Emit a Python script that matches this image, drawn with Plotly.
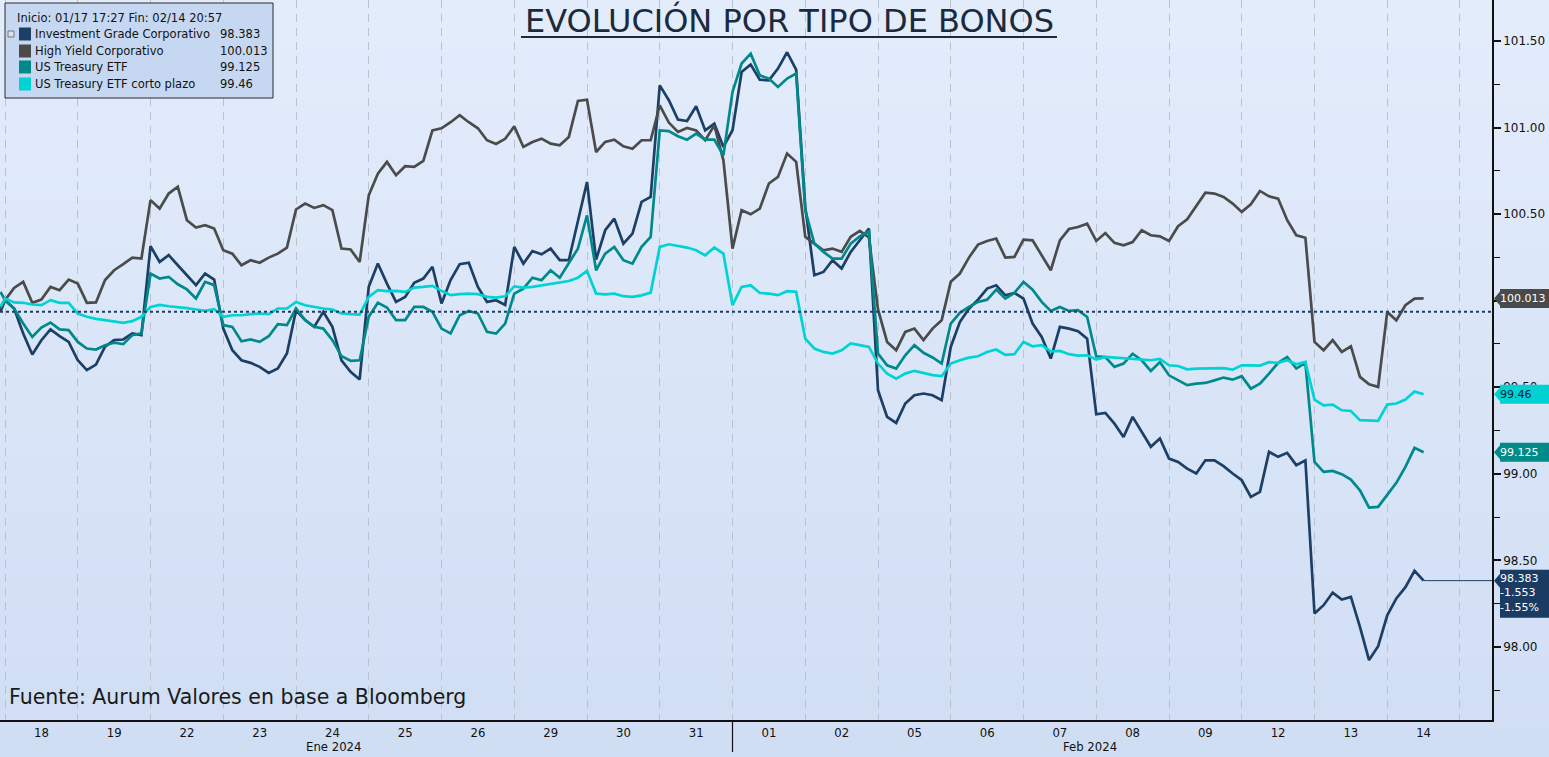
import plotly.graph_objects as go

# ---------------- DATA ----------------
day_labels = ["18", "19", "22", "23", "24", "25", "26", "29", "30", "31",
              "01", "02", "05", "06", "07", "08", "09", "12", "13", "14"]
month_labels = ["Ene 2024", "Feb 2024"]
y_tickvals = [98.0, 98.5, 99.0, 99.5, 100.0, 100.5, 101.0, 101.5]
y_ticktext = ["98.00", "98.50", "99.00", "99.50", "", "100.50", "101.00", "101.50"]
samples_per_day = 8
last_day_samples = 5

ig = [99.936,
      100.003, 99.955, 99.811, 99.689, 99.772, 99.834, 99.795, 99.762,
      99.656, 99.599, 99.631, 99.734, 99.772, 99.776, 99.811, 99.801,
      100.315, 100.224, 100.263, 100.205, 100.147, 100.090, 100.157, 100.122,
      99.839, 99.714, 99.656, 99.641, 99.618, 99.583, 99.608, 99.695,
      99.945, 99.888, 99.849, 99.936, 99.849, 99.656, 99.589, 99.545,
      100.080, 100.215, 100.099, 99.993, 100.022, 100.103, 100.128, 100.196,
      99.984, 100.119, 100.211, 100.219, 100.080, 99.993, 100.003, 99.975,
      100.311, 100.214, 100.287, 100.268, 100.301, 100.234, 100.234, 100.465,
      100.686, 100.237, 100.407, 100.474, 100.330, 100.388, 100.571, 100.600,
      101.244, 101.158, 101.046, 101.038, 101.123, 100.984, 101.023, 100.888,
      100.985, 101.321, 101.364, 101.277, 101.273, 101.341, 101.435, 101.335,
      100.542, 100.147, 100.166, 100.234, 100.186, 100.282, 100.349, 100.417,
      99.483, 99.329, 99.294, 99.406, 99.454, 99.464, 99.454, 99.425,
      99.733, 99.877, 99.954, 100.006, 100.070, 100.089, 100.031, 100.045,
      100.012, 99.868, 99.791, 99.666, 99.849, 99.839, 99.824, 99.781,
      99.344, 99.352, 99.290, 99.213, 99.329, 99.242, 99.156, 99.204,
      99.088, 99.069, 99.030, 99.002, 99.078, 99.078, 99.044, 99.002,
      98.963, 98.867, 98.896, 99.127, 99.098, 99.121, 99.050, 99.078,
      98.193, 98.241, 98.314, 98.274, 98.289, 98.116, 97.924, 98.004,
      98.183, 98.280, 98.345, 98.440, 98.383]

hy = [99.955,
      100.003, 100.074, 100.109, 99.988, 100.007, 100.080, 100.061, 100.122,
      100.099, 99.988, 99.990, 100.119, 100.176, 100.211, 100.249, 100.244,
      100.581, 100.532, 100.619, 100.658, 100.465, 100.423, 100.436, 100.417,
      100.292, 100.272, 100.205, 100.234, 100.219, 100.249, 100.272, 100.307,
      100.527, 100.561, 100.536, 100.552, 100.523, 100.301, 100.296, 100.224,
      100.609, 100.734, 100.802, 100.725, 100.777, 100.773, 100.808, 100.984,
      100.996, 101.031, 101.071, 101.031, 100.996, 100.927, 100.905, 100.935,
      101.007, 100.888, 100.917, 100.936, 100.907, 100.898, 100.946, 101.154,
      101.161, 100.859, 100.917, 100.930, 100.892, 100.878, 100.927, 100.927,
      101.129, 101.029, 100.975, 100.998, 100.984, 100.927, 101.013, 100.811,
      100.301, 100.523, 100.499, 100.532, 100.677, 100.715, 100.850, 100.802,
      100.369, 100.330, 100.291, 100.301, 100.282, 100.369, 100.403, 100.365,
      99.950, 99.762, 99.714, 99.820, 99.839, 99.772, 99.839, 99.887,
      100.109, 100.157, 100.249, 100.324, 100.345, 100.359, 100.249, 100.253,
      100.353, 100.349, 100.262, 100.176, 100.349, 100.414, 100.426, 100.445,
      100.345, 100.391, 100.334, 100.320, 100.339, 100.407, 100.378, 100.372,
      100.345, 100.430, 100.470, 100.545, 100.624, 100.619, 100.599, 100.561,
      100.513, 100.557, 100.634, 100.603, 100.590, 100.465, 100.378, 100.364,
      99.762, 99.714, 99.772, 99.704, 99.737, 99.560, 99.517, 99.502,
      99.935, 99.887, 99.974, 100.012, 100.013]

ust = [100.051,
       100.003, 99.955, 99.868, 99.791, 99.845, 99.874, 99.834, 99.830,
       99.762, 99.724, 99.718, 99.743, 99.757, 99.749, 99.801, 99.811,
       100.157, 100.128, 100.138, 100.095, 100.065, 100.013, 100.109, 100.090,
       99.859, 99.849, 99.766, 99.776, 99.762, 99.795, 99.864, 99.859,
       99.955, 99.888, 99.849, 99.839, 99.772, 99.680, 99.653, 99.656,
       99.907, 99.988, 99.961, 99.888, 99.888, 99.964, 99.964, 99.936,
       99.839, 99.811, 99.916, 99.941, 99.926, 99.820, 99.810, 99.868,
       100.041, 100.070, 100.133, 100.118, 100.176, 100.133, 100.214, 100.301,
       100.493, 100.176, 100.272, 100.311, 100.234, 100.214, 100.311, 100.368,
       100.984, 100.980, 100.950, 100.930, 100.965, 100.930, 100.930, 100.840,
       101.206, 101.370, 101.427, 101.302, 101.283, 101.235, 101.283, 101.312,
       100.523, 100.330, 100.282, 100.243, 100.243, 100.330, 100.372, 100.401,
       99.695, 99.627, 99.608, 99.685, 99.743, 99.699, 99.672, 99.637,
       99.868, 99.930, 99.964, 99.993, 100.006, 100.064, 100.012, 100.045,
       100.108, 100.064, 99.993, 99.941, 99.964, 99.941, 99.945, 99.906,
       99.679, 99.675, 99.618, 99.637, 99.694, 99.656, 99.594, 99.646,
       99.569, 99.540, 99.512, 99.521, 99.525, 99.540, 99.556, 99.544,
       99.564, 99.492, 99.521, 99.579, 99.641, 99.675, 99.608, 99.641,
       99.069, 99.011, 99.017, 98.998, 98.967, 98.905, 98.805, 98.809,
       98.876, 98.948, 99.040, 99.150, 99.125]

ust_short = [99.965,
             100.013, 99.990, 99.988, 99.978, 99.974, 100.003, 99.988, 99.988,
             99.926, 99.907, 99.895, 99.888, 99.882, 99.872, 99.882, 99.907,
             99.964, 99.976, 99.968, 99.964, 99.957, 99.949, 99.941, 99.951,
             99.907, 99.916, 99.916, 99.922, 99.926, 99.922, 99.955, 99.955,
             99.993, 99.974, 99.964, 99.955, 99.949, 99.926, 99.922, 99.920,
             100.022, 100.061, 100.055, 100.057, 100.051, 100.076, 100.080, 100.086,
             100.057, 100.032, 100.038, 100.041, 100.038, 100.022, 100.018, 100.026,
             100.083, 100.076, 100.080, 100.089, 100.099, 100.105, 100.114, 100.133,
             100.172, 100.041, 100.037, 100.041, 100.026, 100.022, 100.031, 100.047,
             100.311, 100.326, 100.315, 100.307, 100.291, 100.262, 100.307, 100.272,
             99.974, 100.080, 100.089, 100.045, 100.041, 100.032, 100.055, 100.051,
             99.781, 99.724, 99.704, 99.695, 99.714, 99.753, 99.743, 99.733,
             99.637, 99.579, 99.550, 99.579, 99.595, 99.583, 99.570, 99.564,
             99.637, 99.656, 99.671, 99.679, 99.704, 99.718, 99.687, 99.691,
             99.762, 99.737, 99.743, 99.708, 99.710, 99.691, 99.683, 99.685,
             99.660, 99.675, 99.671, 99.671, 99.664, 99.660, 99.656, 99.664,
             99.627, 99.623, 99.604, 99.608, 99.608, 99.608, 99.610, 99.602,
             99.627, 99.627, 99.625, 99.645, 99.641, 99.656, 99.633, 99.646,
             99.429, 99.396, 99.400, 99.367, 99.363, 99.310, 99.310, 99.306,
             99.400, 99.406, 99.429, 99.475, 99.460]

names = ["Investment Grade Corporativo", "High Yield Corporativo",
         "US Treasury ETF", "US Treasury ETF corto plazo"]
colors = ["#1c3f66", "#4b4b4b", "#00898a", "#00d3d3"]
series = [ig, hy, ust, ust_short]

# time positions (day index units: each trading day spans one unit)
n_days = len(day_labels)
xpos = [-0.5 / samples_per_day]
for d in range(n_days - 1):
    xpos += [d + j / samples_per_day for j in range(samples_per_day)]
xpos += [n_days - 1 + j / samples_per_day for j in range(last_day_samples)]
for s in series:
    assert len(s) == len(xpos)

X_MIN, X_MAX = -0.069, 20.44
Y_MIN, Y_MAX = 97.578, 101.737
PLOT_W, PLOT_H = 1492, 720

fig = go.Figure()

# background gradient bands (whole figure)
top_rgb = (227, 236, 251)
bot_rgb = (208, 222, 244)
nb = 30
y_lo = -37 / PLOT_H
for i in range(nb):
    t = i / (nb - 1)
    c = tuple(round(top_rgb[k] + (bot_rgb[k] - top_rgb[k]) * t) for k in range(3))
    y1 = 1 - (1 - y_lo) * i / nb
    y0 = 1 - (1 - y_lo) * (i + 1) / nb
    fig.add_shape(type="rect", xref="paper", yref="paper", x0=0, x1=1.04,
                  y0=y0 - 0.002, y1=y1, fillcolor="rgb(%d,%d,%d)" % c,
                  line_width=0, layer="below")

for s, nm, col in zip(series, names, colors):
    fig.add_trace(go.Scatter(x=xpos, y=s, mode="lines", name=nm,
                             line=dict(color=col, width=2.7),
                             hoverinfo="skip"))

# dotted line at IG start value
fig.add_shape(type="line", xref="paper", yref="y", x0=0, x1=1, y0=ig[0], y1=ig[0],
              line=dict(color="#1c3f66", width=2, dash="dot"), layer="above")
# thin line from IG last value to axis
fig.add_shape(type="line", xref="x", yref="y", x0=xpos[-1], x1=X_MAX,
              y0=ig[-1], y1=ig[-1], line=dict(color="#1c3f66", width=1))

# month separator below axis
fig.add_shape(type="line", xref="x", yref="paper", x0=10, x1=10, y0=0,
              y1=-32 / PLOT_H, line=dict(color="#111111", width=1.2))

# ---- right side value tags ----
tag_font = "DejaVu Sans"
def add_tag(val, fill, txtcol, text, top=9.5, bottom=-9.5, nlines=1):
    path = ("M 2 0 L 8 7 L 8 %g L 62 %g L 62 %g L 8 %g L 8 -7 Z"
            % (top, top, bottom, bottom))
    fig.add_shape(type="path", xref="paper", yref="y", xsizemode="pixel",
                  ysizemode="pixel", xanchor=1, yanchor=val, path=path,
                  fillcolor=fill, line=dict(color=fill, width=0), layer="above")
    fig.add_annotation(xref="paper", yref="y", x=1, y=val, xanchor="left",
                       yanchor="top" if nlines > 1 else "middle",
                       yshift=top if nlines > 1 else 0, xshift=6,
                       text=text, showarrow=False, align="left",
                       font=dict(family=tag_font, size=11, color=txtcol))

add_tag(hy[-1], "#4a4a4a", "#ffffff", "%.3f" % hy[-1])
add_tag(ust_short[-1], "#00d2d2", "#0f2336", "%.2f" % ust_short[-1])
add_tag(ust[-1], "#008a88", "#ffffff", "%.3f" % ust[-1])
chg = ig[-1] - ig[0]
pct = chg / ig[0] * 100
add_tag(ig[-1], "#1b3c62", "#ffffff",
        "%.3f<br>%.3f<br>%.2f%%" % (ig[-1], chg, pct), top=11, bottom=-37, nlines=3)

# ---- legend box ----
def px2x(p):
    return p / PLOT_W
def px2y(p):
    return 1 - p / PLOT_H

fig.add_shape(type="rect", xref="paper", yref="paper", x0=px2x(5), x1=px2x(273),
              y0=px2y(98), y1=px2y(3), fillcolor="#c6d8f1",
              line=dict(color="#2a2a2a", width=1), layer="above")
leg_font = dict(family="DejaVu Sans", size=11.5, color="#111111")
fig.add_annotation(xref="paper", yref="paper", x=px2x(15), y=px2y(18),
                   xanchor="left", yanchor="middle", showarrow=False,
                   text="Inicio: 01/17 17:27 Fin: 02/14 20:57", font=leg_font)
# small expand box
fig.add_shape(type="rect", xref="paper", yref="paper", x0=px2x(8), x1=px2x(14),
              y0=px2y(37), y1=px2y(31), fillcolor="#d8e2f0",
              line=dict(color="#777777", width=1), layer="above")
legend_rows = [34, 51, 67, 84]
for s, nm, col, yy in zip(series, names, colors, legend_rows):
    fig.add_shape(type="rect", xref="paper", yref="paper", x0=px2x(19), x1=px2x(31),
                  y0=px2y(yy + 6.5), y1=px2y(yy - 6.5), fillcolor=col,
                  line_width=0, layer="above")
    fig.add_annotation(xref="paper", yref="paper", x=px2x(33), y=px2y(yy),
                       xanchor="left", yanchor="middle", showarrow=False,
                       text=nm, font=leg_font)
    val = s[-1]
    vtxt = ("%.3f" % val).rstrip("0") if abs(val * 100 - round(val * 100)) < 1e-9 else "%.3f" % val
    fig.add_annotation(xref="paper", yref="paper", x=px2x(218), y=px2y(yy),
                       xanchor="left", yanchor="middle", showarrow=False,
                       text=vtxt, font=leg_font)

# ---- title ----
fig.add_annotation(xref="paper", yref="paper", x=px2x(789), y=px2y(20),
                   xanchor="center", yanchor="middle", showarrow=False,
                   text="EVOLUCIÓN POR TIPO DE BONOS",
                   font=dict(family="DejaVu Sans", size=32, color="#1b2a3c"))
fig.add_shape(type="line", xref="paper", yref="paper", x0=px2x(521), x1=px2x(1057),
              y0=px2y(37), y1=px2y(37), line=dict(color="#1b2a3c", width=2),
              layer="above")

# ---- source ----
fig.add_annotation(xref="paper", yref="paper", x=px2x(7), y=px2y(697),
                   xanchor="left", yanchor="middle", showarrow=False,
                   text="Fuente: Aurum Valores en base a Bloomberg",
                   font=dict(family="DejaVu Sans", size=20.5, color="#1a1a1a"))

# ---- month labels ----
month_x = [4.51, 14.92]
for mx, ml in zip(month_x, month_labels):
    fig.add_annotation(xref="x", yref="paper", x=mx, y=px2y(746),
                       xanchor="center", yanchor="middle", showarrow=False,
                       text=ml, font=dict(family="Liberation Sans Narrow, DejaVu Sans Condensed",
                                          size=13, color="#111111"))

fig.update_layout(
    width=1549, height=757, autosize=False,
    margin=dict(l=0, r=1549 - PLOT_W, t=0, b=757 - PLOT_H, pad=0),
    paper_bgcolor="rgb(208,222,244)", plot_bgcolor="rgba(0,0,0,0)",
    showlegend=False,
    xaxis=dict(range=[X_MIN, X_MAX], tickmode="array",
               tickvals=[d + 0.5 for d in range(n_days)], ticktext=day_labels,
               showgrid=False, zeroline=False, showline=True, linecolor="#111111",
               linewidth=1.5, ticks="", ticklen=0,
               tickfont=dict(family="Liberation Sans Narrow, DejaVu Sans Condensed",
                             size=13, color="#111111"),
               minor=dict(tickmode="linear", tick0=0, dtick=1, showgrid=True,
                          gridcolor="#b9c2cf", gridwidth=1, griddash="8px,6px",
                          ticks="")),
    yaxis=dict(range=[Y_MIN, Y_MAX], side="right", tickmode="array",
               tickvals=y_tickvals, ticktext=y_ticktext, showgrid=False, zeroline=False,
               showline=True, linecolor="#111111", linewidth=1.5,
               ticks="outside", ticklen=7, tickwidth=2, tickcolor="#111111",
               tickfont=dict(family="DejaVu Sans", size=12, color="#111111"),
               minor=dict(tickmode="linear", tick0=98.25, dtick=0.5,
                          ticks="outside", ticklen=6, tickwidth=1,
                          tickcolor="#111111", showgrid=False)),
)

fig.write_html("out.html")
